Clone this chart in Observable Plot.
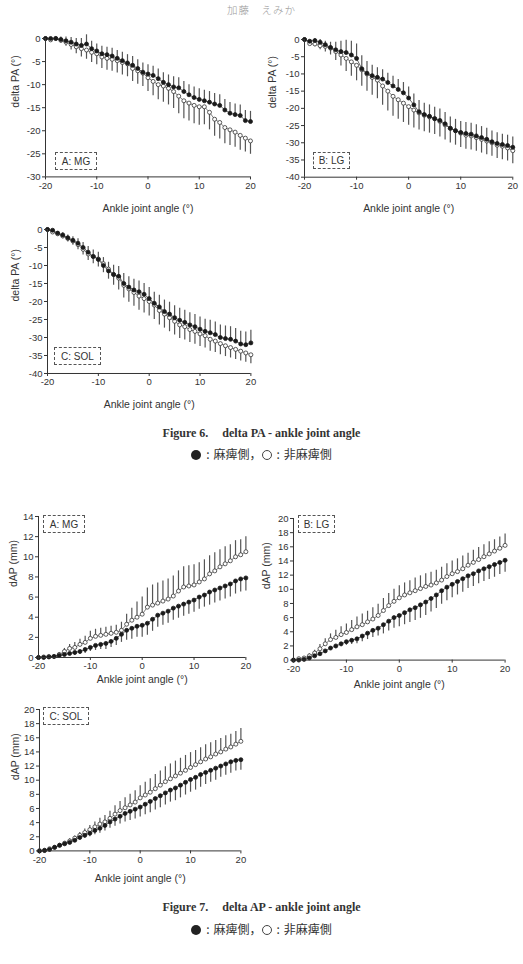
<!DOCTYPE html>
<html>
<head>
<meta charset="utf-8">
<script src="https://cdn.jsdelivr.net/npm/d3@7"></script>
<script src="https://cdn.jsdelivr.net/npm/@observablehq/plot@0.6"></script>
<style>
  html, body { margin: 0; padding: 0; background: #fff; }
  body { width: 523px; height: 964px; position: relative; overflow: hidden; color: #333; font-family: "Liberation Sans", Arial, sans-serif; }
  .abs { position: absolute; }
  .tag { position: absolute; box-sizing: border-box; border: 1px dashed #555; font-size: 10px; color: #333;
         display: flex; align-items: center; justify-content: center; background: #fff; }
  .header { position: absolute; left: 0; width: 523px; top: 2px; text-align: center; font-family: "Noto Sans CJK JP", sans-serif;
            font-size: 10.5px; color: #999; font-weight: 300; letter-spacing: 1px; }
  .caption { position: absolute; left: 0; width: 523px; text-align: center; font-family: "Liberation Serif", serif;
             font-weight: bold; font-size: 12px; color: #333; }
  .caption .gap { display: inline-block; width: 14px; }
  .legend { position: absolute; left: 0; width: 523px; text-align: center; font-family: "Noto Sans CJK JP", sans-serif;
            font-size: 12px; color: #333; white-space: nowrap; }
  .legend .fill, .legend .open { display: inline-block; width: 10px; height: 10px; border-radius: 50%; vertical-align: -1px; box-sizing: border-box; }
  .legend .fill { background: #222; }
  .legend .open { border: 1px solid #444; background: #fff; }
  .legend .colon { display: inline-block; margin: 0 4px 0 5px; }
</style>
</head>
<body>
<div class="header">加藤　えみか</div>
<div id="charts"></div>
<div class="caption" style="top:426px">Figure 6.<span class="gap"></span>delta PA - ankle joint angle</div>
<div class="legend" style="top:445px"><span class="fill"></span><span class="colon">:</span>麻痺側，<span class="open"></span><span class="colon">:</span>非麻痺側</div>
<div class="caption" style="top:900px">Figure 7.<span class="gap"></span>delta AP - ankle joint angle</div>
<div class="legend" style="top:920px"><span class="fill"></span><span class="colon">:</span>麻痺側，<span class="open"></span><span class="colon">:</span>非麻痺側</div>
<script>
// Ankle joint angle (deg), one sample per degree
const angles = [-20,-19,-18,-17,-16,-15,-14,-13,-12,-11,-10,-9,-8,-7,-6,-5,-4,-3,-2,-1,0,1,2,3,4,5,6,7,8,9,10,11,12,13,14,15,16,17,18,19,20];
const xTicks = [-20, -10, 0, 10, 20];

// Figure 6: delta PA (deg). "paretic" = 麻痺側 (filled), "nonparetic" = 非麻痺側 (open)
const paMgParetic = [0,0,0,-0.2,-0.5,-0.8,-1.2,-1.5,-1.2,-2.2,-2.7,-3.3,-3.5,-3.8,-4.3,-4.8,-5.3,-5.8,-6.5,-7.3,-7.7,-8,-8.7,-9.5,-10,-10.5,-10.7,-11.5,-12.2,-12.8,-13.2,-13.5,-13.8,-14.2,-14.5,-15.5,-16.2,-16.5,-16.7,-17.8,-18];
const paMgPareticSd = [0,0.2,0.3,0.5,0.8,1.0,1.2,1.5,2.0,1.6,1.5,1.6,1.6,1.7,1.7,1.8,1.8,1.9,1.9,2.0,2.0,2.0,2.1,2.1,2.1,2.2,2.2,2.2,2.2,2.3,2.3,2.3,2.3,2.3,2.3,2.3,2.3,2.3,2.3,2.2,2.2];
const paMgNonparetic = [0,-0.3,0,-0.4,-0.8,-1.3,-1.8,-2.2,-2.5,-3,-3.3,-4,-4.3,-4.5,-4.8,-5.2,-5.5,-6.5,-7,-7.5,-8.5,-9.3,-10,-10.3,-10.8,-11.5,-12.5,-13.5,-14,-14.5,-14.8,-14.8,-16,-17.5,-18.2,-19.3,-19.8,-20.3,-21,-21.6,-22.2];
const paMgNonpareticSd = [0,0.3,0.4,0.6,0.9,1.2,1.5,1.8,2.0,2.2,2.4,2.5,2.6,2.6,2.7,2.7,2.8,2.8,2.9,2.9,3.0,3.1,3.3,3.5,3.6,3.7,3.8,3.9,3.9,4.0,4.0,3.9,3.8,3.7,3.6,3.5,3.4,3.3,3.2,3.0,2.9];

const paLgParetic = [0,-0.5,-0.3,-0.8,-1.5,-2.3,-3,-3.5,-3.8,-4.5,-5.5,-8.5,-9.8,-10.5,-11,-11.5,-12.5,-13.5,-14.5,-15.5,-17,-19,-21,-21.8,-22.3,-23,-23.5,-24.5,-25.8,-26.5,-27,-27.3,-27.5,-28,-28.5,-29,-29.7,-30.2,-30.5,-30.8,-31.3];
const paLgPareticSd = [0,0.3,0.5,0.8,1.0,1.5,2.2,3.0,3.6,4.0,4.2,3.8,3.4,3.0,2.8,2.7,2.7,2.8,2.9,3.0,3.2,3.2,3.3,3.3,3.3,3.3,3.3,3.3,3.3,3.3,3.2,3.2,3.2,3.2,3.2,3.2,3.1,3.1,3.0,3.0,3.0];
const paLgNonparetic = [0,-1.2,-1.3,-1.8,-2,-2.5,-3.5,-4.5,-5.5,-6.5,-7.5,-8.8,-10,-11,-11.8,-13.5,-15,-16.5,-17.5,-18.5,-19.5,-20.5,-21.3,-22,-22.5,-23,-23.8,-24.8,-25.8,-26.5,-27.2,-27.8,-28,-28.5,-29,-29.5,-30,-30.7,-31,-31.5,-32.3];
const paLgNonpareticSd = [0,0.5,0.8,1.2,1.6,2.0,2.6,3.2,3.8,4.2,4.5,4.8,5.0,5.2,5.4,5.6,5.8,5.8,5.7,5.6,5.4,5.2,5.0,4.8,4.7,4.6,4.5,4.4,4.3,4.2,4.2,4.1,4.1,4.0,4.0,4.0,3.9,3.9,3.9,3.8,3.8];

const paSolParetic = [0,-0.2,-1,-1.5,-2.3,-3,-3.8,-5,-6.3,-7.5,-8.3,-10,-11.5,-12.5,-13,-15,-16,-16.8,-17.3,-18,-19.2,-20.5,-21.5,-22.8,-23.5,-24.5,-25.2,-25.8,-26.5,-27,-27.7,-28.3,-28.7,-29.2,-30,-30.3,-30.5,-31,-31.8,-32,-31.5];
const paSolPareticSd = [0,0.2,0.4,0.6,0.8,1.0,1.2,1.4,1.6,1.8,2.0,2.2,2.4,2.6,2.7,2.8,2.9,3.0,3.0,3.0,3.1,3.1,3.2,3.2,3.3,3.3,3.3,3.4,3.4,3.4,3.4,3.4,3.5,3.5,3.5,3.5,3.5,3.5,3.5,3.5,3.5];
const paSolNonparetic = [0,-0.7,-1.2,-1.8,-2.5,-3.2,-4.2,-5.5,-6.8,-7.5,-8.2,-9.5,-11,-12.5,-13.5,-15.5,-16.5,-17.5,-18.5,-19.2,-20,-21,-22.5,-23.5,-24.5,-25.5,-26.5,-27,-27.8,-28.3,-29,-29.5,-30.5,-31,-31.7,-32.3,-32.8,-33.3,-33.8,-34.3,-34.8];
const paSolNonpareticSd = [0,0.3,0.5,0.8,1.0,1.2,1.4,1.6,1.8,2.0,2.2,2.5,2.8,3.0,3.3,3.5,3.7,3.8,3.9,4.0,4.0,4.0,4.0,3.9,3.9,3.8,3.8,3.7,3.6,3.6,3.5,3.4,3.3,3.2,3.1,3.0,2.9,2.8,2.7,2.6,2.5];

// Figure 7: dAP (mm)
const apMgParetic = [0,0,0.05,0.1,0.2,0.3,0.4,0.5,0.6,0.8,1.0,1.2,1.3,1.4,1.6,1.9,2.3,2.7,2.9,3.1,3.2,3.4,3.8,4.2,4.4,4.6,4.9,5.1,5.3,5.5,5.7,6.0,6.2,6.5,6.7,6.9,7.1,7.3,7.6,7.8,7.9];
const apMgPareticSd = [0,0,0,0.1,0.1,0.2,0.2,0.3,0.3,0.4,0.4,0.5,0.5,0.6,0.6,0.7,0.8,1.0,1.1,1.1,1.2,1.2,1.2,1.2,1.2,1.2,1.2,1.2,1.2,1.2,1.2,1.2,1.2,1.3,1.3,1.3,1.3,1.3,1.3,1.3,1.3];
const apMgNonparetic = [0,0.05,0.1,0.1,0.3,0.6,0.9,1.0,1.3,1.5,1.9,2.1,2.2,2.3,2.4,2.5,2.7,3.3,3.7,4.0,4.3,5.0,5.2,5.4,5.6,5.8,6.1,6.6,7.0,7.1,7.2,7.5,7.8,8.3,8.6,9.0,9.3,9.6,10.0,10.2,10.5];
const apMgNonpareticSd = [0,0,0.1,0.1,0.2,0.3,0.4,0.5,0.5,0.6,0.7,0.7,0.7,0.7,0.7,0.7,0.8,1.0,1.2,1.5,1.7,1.9,2.0,2.0,2.0,2.0,2.0,2.0,2.0,2.0,2.0,1.9,1.9,1.8,1.8,1.7,1.7,1.6,1.6,1.5,1.5];

const apLgParetic = [0,0,0.1,0.3,0.6,0.9,1.3,1.7,2.0,2.3,2.6,2.8,3.0,3.4,3.8,4.2,4.5,5.0,5.5,6.0,6.3,6.7,7.1,7.4,7.8,8.2,8.7,9.2,9.8,10.3,10.7,11.1,11.5,11.9,12.2,12.6,12.9,13.2,13.5,13.8,14.1];
const apLgPareticSd = [0,0,0.1,0.1,0.2,0.2,0.3,0.3,0.4,0.4,0.5,0.6,0.7,0.8,0.9,1.0,1.1,1.3,1.4,1.5,1.6,1.7,1.8,1.8,1.9,1.9,1.9,1.9,1.9,1.9,1.9,1.9,1.9,1.8,1.8,1.8,1.8,1.8,1.8,1.7,1.7];
const apLgNonparetic = [0,0.2,0.3,0.6,1.0,1.6,2.3,2.9,3.2,3.6,3.9,4.3,4.7,5.0,5.4,5.8,6.3,7.0,7.7,8.3,8.8,9.2,9.5,9.8,10.1,10.4,10.6,10.9,11.3,11.8,12.2,12.5,12.9,13.4,13.8,14.2,14.6,15.0,15.4,15.8,16.2];
const apLgNonpareticSd = [0,0.1,0.2,0.3,0.4,0.6,0.7,0.8,1.0,1.1,1.2,1.3,1.4,1.5,1.5,1.6,1.6,1.7,1.7,1.7,1.7,1.7,1.7,1.8,1.8,1.8,1.8,1.8,1.8,1.8,1.8,1.8,1.8,1.7,1.7,1.7,1.7,1.7,1.6,1.6,1.6];

const apSolParetic = [0,0.05,0.2,0.5,0.8,1.0,1.2,1.5,1.9,2.2,2.5,2.9,3.2,3.6,4.1,4.5,4.9,5.3,5.6,5.9,6.2,6.6,7.0,7.4,7.8,8.2,8.6,8.9,9.3,9.7,10.1,10.4,10.8,11.1,11.4,11.7,12.0,12.3,12.6,12.8,12.9];
const apSolPareticSd = [0,0,0.1,0.1,0.2,0.2,0.3,0.3,0.4,0.4,0.5,0.6,0.7,0.8,0.9,1.0,1.1,1.2,1.3,1.4,1.4,1.5,1.6,1.6,1.7,1.7,1.7,1.8,1.8,1.8,1.8,1.8,1.8,1.7,1.7,1.7,1.6,1.6,1.6,1.5,1.5];
const apSolNonparetic = [0,0.1,0.3,0.5,0.8,1.1,1.4,1.8,2.2,2.6,3.0,3.4,3.8,4.1,4.6,5.2,5.7,6.1,6.5,6.9,7.5,7.9,8.3,8.8,9.3,9.8,10.2,10.6,11.0,11.4,11.8,12.2,12.6,13.0,13.3,13.7,14.0,14.4,14.7,15.1,15.5];
const apSolNonpareticSd = [0,0,0.1,0.1,0.2,0.2,0.3,0.3,0.4,0.5,0.6,0.7,0.8,0.9,1.0,1.2,1.3,1.4,1.5,1.6,1.7,1.8,1.9,2.0,2.0,2.1,2.1,2.1,2.1,2.1,2.1,2.0,2.0,2.0,2.0,1.9,1.9,1.9,1.8,1.8,1.8];

const paTicks40 = [-40,-35,-30,-25,-20,-15,-10,-5,0];
const paTicks30 = [-30,-25,-20,-15,-10,-5,0];
const apTicks14 = [0,2,4,6,8,10,12,14];
const apTicks20 = [0,2,4,6,8,10,12,14,16,18,20];

// Panel layout: plot-frame edges on the page (px) and label offsets
const panels = [
  {frame: [45, 250, 38.3, 176.7], y: [-30, 0], ticks: paTicks30, yLabel: "delta PA (°)", yOff: 30, xOff: 35,
   tag: "A: MG", tagBox: [55, 152, 42, 18],
   filled: paMgParetic, filledSd: paMgPareticSd, filledDir: 1,
   open: paMgNonparetic, openSd: paMgNonpareticSd, openDir: -1},
  {frame: [303.7, 512, 39, 176.7], y: [-40, 0], ticks: paTicks40, yLabel: "delta PA (°)", yOff: 32, xOff: 35,
   tag: "B: LG", tagBox: [313, 152, 37, 17],
   filled: paLgParetic, filledSd: paLgPareticSd, filledDir: 1,
   open: paLgNonparetic, openSd: paLgNonpareticSd, openDir: -1},
  {frame: [47.3, 250.7, 229.3, 373.3], y: [-40, 0], ticks: paTicks40, yLabel: "delta PA (°)", yOff: 32, xOff: 35,
   tag: "C: SOL", tagBox: [54, 347, 47, 18],
   filled: paSolParetic, filledSd: paSolPareticSd, filledDir: 1,
   open: paSolNonparetic, openSd: paSolNonpareticSd, openDir: -1},
  {frame: [38.3, 245.7, 515.7, 656.7], y: [0, 14], ticks: apTicks14, yLabel: "dAP (mm)", yOff: 25, xOff: 26,
   tag: "A: MG", tagBox: [43, 515, 42, 18],
   filled: apMgParetic, filledSd: apMgPareticSd, filledDir: -1,
   open: apMgNonparetic, openSd: apMgNonpareticSd, openDir: 1},
  {frame: [292.7, 504.3, 517.7, 659.3], y: [0, 20], ticks: apTicks20, yLabel: "dAP (mm)", yOff: 27, xOff: 28,
   tag: "B: LG", tagBox: [298, 515, 37, 18],
   filled: apLgParetic, filledSd: apLgPareticSd, filledDir: -1,
   open: apLgNonparetic, openSd: apLgNonpareticSd, openDir: 1},
  {frame: [39.3, 240.7, 709.3, 850.7], y: [0, 20], ticks: apTicks20, yLabel: "dAP (mm)", yOff: 24, xOff: 31,
   tag: "C: SOL", tagBox: [43, 707, 46, 18],
   filled: apSolParetic, filledSd: apSolPareticSd, filledDir: -1,
   open: apSolNonparetic, openSd: apSolNonpareticSd, openDir: 1}
];

const ML = 40, MR = 8, MT = 8, MB = 44;
const host = document.getElementById("charts");
const plain = d => String(d); // hyphen-minus tick labels

function rows(means, sds, dir) {
  return angles.map((a, i) => ({angle: a, mean: means[i], end: means[i] + dir * sds[i]}));
}

for (const p of panels) {
  const [x0, x1, y0, y1] = p.frame;
  const filledRows = rows(p.filled, p.filledSd, p.filledDir);
  const openRows = rows(p.open, p.openSd, p.openDir);
  const chart = Plot.plot({
    width: x1 - x0 + ML + MR,
    height: y1 - y0 + MT + MB,
    marginLeft: ML, marginRight: MR, marginTop: MT, marginBottom: MB,
    style: {fontFamily: "Liberation Sans, Arial, sans-serif", fontSize: "9.5px", color: "#333", background: "transparent", overflow: "visible"},
    x: {domain: [-20, 20]},
    y: {domain: p.y},
    marks: [
      // error bars (one-sided SD)
      Plot.ruleX(openRows, {x: "angle", y1: "mean", y2: "end", stroke: "#555", strokeWidth: 1.2}),
      Plot.ruleX(filledRows, {x: "angle", y1: "mean", y2: "end", stroke: "#555", strokeWidth: 1.2}),
      // mean curves
      Plot.line(openRows, {x: "angle", y: "mean", stroke: "#444", strokeWidth: 0.7}),
      Plot.line(filledRows, {x: "angle", y: "mean", stroke: "#222", strokeWidth: 0.7}),
      Plot.dot(openRows, {x: "angle", y: "mean", r: 2, fill: "white", stroke: "#333", strokeWidth: 0.8}),
      Plot.dot(filledRows, {x: "angle", y: "mean", r: 2, fill: "#1a1a1a", stroke: "#1a1a1a", strokeWidth: 0.8}),
      // axes
      Plot.ruleX([-20], {stroke: "#333", strokeWidth: 1}),
      Plot.ruleY([p.y[0]], {stroke: "#333", strokeWidth: 1}),
      Plot.axisX({ticks: xTicks, tickFormat: plain, tickSize: 3, tickPadding: 2, label: null, stroke: "#333", fill: "#333"}),
      Plot.axisY({ticks: p.ticks, tickFormat: plain, tickSize: 3, tickPadding: 2, label: null, stroke: "#333", fill: "#333"}),
      Plot.text(["Ankle joint angle (°)"], {frameAnchor: "bottom", dy: p.xOff, fontSize: 10.5, fill: "#333"}),
      Plot.text([p.yLabel], {frameAnchor: "left", dx: -p.yOff, rotate: -90, fontSize: 10.5, fill: "#333"})
    ]
  });
  const wrap = document.createElement("div");
  wrap.className = "abs";
  wrap.style.left = (x0 - ML) + "px";
  wrap.style.top = (y0 - MT) + "px";
  wrap.appendChild(chart);
  host.appendChild(wrap);

  const tag = document.createElement("div");
  tag.className = "tag";
  const [tx, ty, tw, th] = p.tagBox;
  tag.style.left = tx + "px"; tag.style.top = ty + "px";
  tag.style.width = tw + "px"; tag.style.height = th + "px";
  tag.textContent = p.tag;
  host.appendChild(tag);
}
</script>
</body>
</html>
